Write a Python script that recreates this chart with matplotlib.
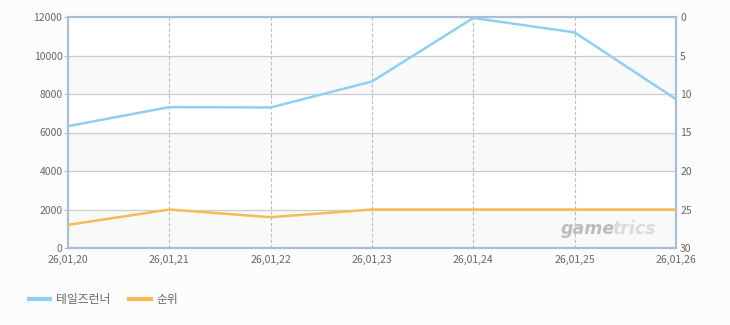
import matplotlib.pyplot as plt
from matplotlib.lines import Line2D

plt.rcParams['font.family'] = ['Noto Sans CJK KR', 'DejaVu Sans']

# data
dates = ['26,01,20', '26,01,21', '26,01,22', '26,01,23', '26,01,24', '26,01,25', '26,01,26']
users = [6330, 7320, 7300, 8650, 11950, 11200, 7730]
rank = [27, 25, 26, 25, 25, 25, 25]

blue = '#8fd0f0'
orange = '#f8bb5a'
spine_c = '#aabdd2'
txt_c = '#666666'

fig = plt.figure(figsize=(7.3, 3.25), dpi=100, facecolor='#fcfcfc')
ax = fig.add_axes([68 / 730, 1 - 248 / 325, 608 / 730, 231 / 325])
ax.set_facecolor('white')

x = list(range(len(dates)))

# alternating horizontal bands
for lo in [0, 4000, 8000]:
    ax.axhspan(lo, lo + 2000, color='#f9f9f9', zorder=0, lw=0)

ax.plot(x, users, color=blue, lw=1.8, zorder=3)
ax.set_xlim(0, len(dates) - 1)
ax.set_ylim(0, 12000)
ax.set_yticks(range(0, 12001, 2000))
ax.set_xticks(x)
ax.set_xticklabels(dates)
ax.grid(axis='y', color='#cccccc', lw=0.9)
ax.grid(axis='x', color='#bbbbbb', lw=0.8, ls=(0, (3, 2)))
ax.set_axisbelow(True)

ax2 = ax.twinx()
ax2.plot(x, rank, color=orange, lw=1.8, zorder=3)
ax2.set_ylim(30, 0)
ax2.set_yticks(range(0, 31, 5))

for a in (ax, ax2):
    for s in a.spines.values():
        s.set_color(spine_c)
        s.set_linewidth(1.5)
    a.tick_params(colors=txt_c, labelsize=7.5, length=3, width=0.8, pad=1)
    a.tick_params(axis='y', color=spine_c)
ax.tick_params(axis='x', length=0, pad=5)
ax2.tick_params(axis='y', length=0, pad=3)

# watermark
ax.text(0.899, 0.045, 'game', transform=ax.transAxes, ha='right', va='bottom',
        fontsize=12.5, fontstyle='italic', fontweight='bold', color='#bdbdbd',
        family='DejaVu Sans', zorder=1)
ax.text(0.895, 0.045, 'trics', transform=ax.transAxes, ha='left', va='bottom',
        fontsize=12.5, fontstyle='italic', fontweight='bold', color='#dadada',
        family='DejaVu Sans', zorder=1)

# legend
handles = [Line2D([], [], color=blue, lw=3), Line2D([], [], color=orange, lw=3)]
fig.legend(handles, ['테일즈런너', '순위'], loc='center left', bbox_to_anchor=(0.025, 0.077),
           ncol=2, frameon=False, fontsize=8.5, labelcolor=txt_c, handlelength=1.8,
           handletextpad=0.5, columnspacing=1.6)

fig.savefig('out.png', dpi=100, facecolor=fig.get_facecolor())
